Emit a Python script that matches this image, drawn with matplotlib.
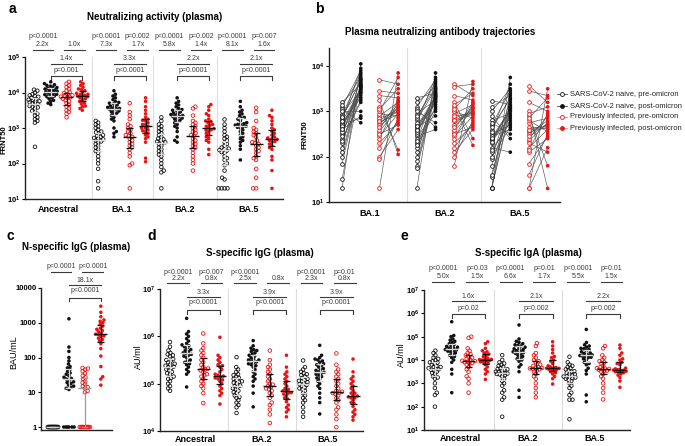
import numpy as np
import matplotlib
matplotlib.use('Agg')
import matplotlib.pyplot as plt
from matplotlib.lines import Line2D
from matplotlib.ticker import NullLocator
from matplotlib.transforms import blended_transform_factory as btf

plt.rcParams['font.family'] = ['Liberation Sans', 'DejaVu Sans']
plt.rcParams['mathtext.fontset'] = 'custom'
plt.rcParams['mathtext.rm'] = 'Liberation Sans'
plt.rcParams['mathtext.bf'] = 'Liberation Sans:bold'

# ---------------- DATA (log10 values for a, b, d, e) ----------------
a_variants = ["Ancestral", "BA.1", "BA.2", "BA.5"]
a_anc_np = [3.72,3.85,3.45,4.05,3.62,3.15,3.9,3.78,3.55,3.3,4.0,3.68,3.82,3.2,3.95,3.6,3.48,3.75,4.08,3.35,3.7,3.88,3.58,3.25,3.8,2.47,3.65,3.92,3.4,3.74]
a_anc_npo = [4.02,4.15,3.9,4.25,3.78,4.05,3.95,4.2,3.7,4.1,3.98,4.3,3.85,4.08,4.0,3.92,4.18,3.66,4.12,4.04,3.88,4.22,3.96,4.06,3.82,4.14,4.0,3.75,4.1,3.94]
a_anc_pp = [3.85,4.1,3.6,3.95,4.3,3.45,3.78,4.05,3.3,3.9,3.7,4.2,3.55,3.88,4.0,3.4,3.82,4.15,3.65,3.92,3.75,4.25,3.5,3.98,3.86]
a_anc_ppo = [3.9,4.1,3.7,4.25,3.55,3.95,4.0,3.8,4.3,3.6,3.88,4.15,3.75,3.92,4.05,3.5,3.85,4.2,3.68,3.98,3.82,4.08,3.62,3.94,3.9]
a_ba1_np = [2.7,3.1,2.4,2.85,1.3,2.95,2.6,3.2,2.2,2.75,2.5,3.05,1.85,2.8,2.65,2.3,3.15,2.72,2.0,2.9,2.55,1.5,2.78,2.45,3.0,2.1,2.68,2.88,2.35,2.62]
a_ba1_npo = [3.5,3.9,3.2,3.7,4.05,3.45,2.9,3.6,3.8,3.3,3.55,2.75,3.65,3.95,3.4,3.52,3.75,2.85,3.58,3.85,3.35,3.62,3.48,3.72,3.0,3.56,3.42,3.68,3.25,3.54]
a_ba1_pp = [2.75,3.45,2.3,2.9,1.3,3.1,2.55,2.95,3.7,2.0,2.8,2.6,3.25,2.45,2.7,3.0,2.2,2.85,3.35,2.5,2.65,1.95,3.05,2.78,2.4]
a_ba1_ppo = [3.0,3.4,2.75,3.2,3.85,2.15,3.1,2.9,3.6,2.6,3.05,3.25,2.05,2.95,3.15,3.75,2.8,3.0,3.3,2.7,3.1,2.85,3.5,2.92,3.22]
a_ba2_np = [2.6,3.1,2.3,2.8,1.3,2.95,2.45,3.3,2.0,2.7,2.5,3.05,1.8,2.75,2.55,2.2,3.2,2.65,1.9,2.85,2.4,2.1,2.62,2.35,3.0,1.75,2.58,2.9,2.25,2.68]
a_ba2_npo = [3.33,3.7,3.1,3.5,3.85,3.25,2.6,3.4,3.6,3.15,3.38,2.65,3.45,3.75,3.2,3.35,3.55,2.9,3.42,3.65,3.05,3.3,3.28,3.48,2.75,3.36,3.22,3.52,3.0,3.32]
a_ba2_pp = [2.78,3.6,2.3,2.95,1.8,3.1,2.55,3.0,3.55,2.1,2.85,2.6,3.2,2.45,2.7,3.05,2.2,2.9,3.35,2.5,2.65,2.0,3.15,2.8,2.4]
a_ba2_ppo = [2.94,3.35,2.7,3.15,3.66,2.25,3.05,2.85,3.6,2.6,3.0,3.2,2.4,2.9,3.1,3.5,2.75,2.95,3.25,2.65,3.08,2.8,3.4,2.98,3.18]
a_ba5_np = [2.36,3.0,2.1,2.6,1.3,2.8,2.2,3.24,1.3,2.5,2.3,2.9,1.55,2.55,2.4,1.3,3.1,2.45,1.8,2.7,2.15,1.3,2.38,1.95,2.75,1.6,2.32,2.65,2.0,2.42]
a_ba5_npo = [3.05,3.5,2.8,3.3,3.75,2.95,2.1,3.15,3.4,2.7,3.1,2.4,3.2,3.6,2.85,3.08,3.35,2.6,3.12,3.45,2.75,3.02,3.0,3.25,2.5,3.1,2.9,3.28,2.65,3.04]
a_ba5_pp = [2.55,3.57,2.1,2.75,1.3,2.9,2.35,2.8,3.45,1.3,2.6,2.4,3.0,2.2,2.5,2.85,1.85,2.65,3.2,2.3,2.45,1.6,2.95,2.58,2.15]
a_ba5_ppo = [2.65,3.2,2.4,2.85,3.5,1.8,2.75,2.55,3.35,2.2,2.7,2.9,1.3,2.6,2.8,3.3,2.45,2.62,3.0,2.1,2.72,2.5,3.1,2.68,2.95]

a_p_left = ["p<0.0001", "p<0.0001", "p<0.0001", "p<0.0001"]
a_f_left = ["2.2x", "7.3x", "5.8x", "8.1x"]
a_p_right = ["", "p=0.002", "p=0.002", "p=0.007"]
a_f_right = ["1.0x", "1.7x", "1.4x", "1.6x"]
a_f_mid = ["1.4x", "3.3x", "2.2x", "2.1x"]
a_p_mid = ["p=0.001", "p<0.0001", "p=0.0001", "p<0.0001"]

b_variants = ["BA.1", "BA.2", "BA.5"]
b_legend = ["SARS-CoV-2 naive, pre-omicron", "SARS-CoV-2 naive, post-omicron",
            "Previously infected, pre-omicron", "Previously infected, post-omicron"]

# panel c (BAU/mL, linear values)
c_np = [1,1,1,1,1,1,1,1,1,1,1,1,1,1,1,1,1,1,1,1,1,1,1,1]
c_npo = [1,1,1,1,1,1,12,13,14,15,16,18,19,20,22,24,25,27,30,33,36,40,45,50,55,65,80,100,150,200,1300]
c_pp = [1,1,1,1,1,1,1,1,1,1,1,10,11,13,14,15,17,19,21,24,27,30,35,40,45,48,50]
c_ppo = [16,24,28,55,110,180,250,300,330,360,400,420,450,470,500,550,600,650,700,800,900,1000,1100,1200,1500,2000,3000]
c_p_left = "p<0.0001"
c_p_right = "p<0.0001"
c_f_mid = "18.1x"
c_p_mid = "p<0.0001"

d_variants = ["Ancestral", "BA.2", "BA.5"]
d_anc_np = [5.33,5.6,5.1,5.45,4.85,5.88,5.25,5.7,5.0,5.38,5.52,4.95,5.3,5.65,5.15,5.42,5.78,5.05,5.35,5.48,5.2,5.58,4.9,5.28,5.4,5.12,5.62,5.36,5.22,5.5]
d_anc_npo = [5.62,6.0,5.4,5.8,4.93,6.38,5.55,5.9,5.3,5.7,5.85,5.2,5.6,6.1,5.45,5.75,5.95,5.35,5.65,5.78,5.5,5.68,5.25,5.58,6.05,5.42,5.72,5.64,5.48,5.82]
d_anc_pp = [5.28,5.75,4.9,5.5,4.59,6.06,5.1,5.6,5.35,4.8,5.2,5.85,5.0,5.45,5.25,5.7,4.95,5.3,5.55,5.15,5.4,5.05,5.65,5.32,5.18]
d_anc_ppo = [5.14,5.6,4.85,5.35,4.57,5.98,5.0,5.45,5.2,4.75,5.1,5.55,4.95,5.3,5.12,5.4,4.9,5.18,5.5,5.05,5.25,4.8,5.38,5.16,5.08]
d_ba2_np = [4.93,5.3,4.6,5.1,4.38,5.56,4.85,5.2,4.7,5.0,5.15,4.55,4.9,5.35,4.75,5.05,5.25,4.65,4.95,5.08,4.8,5.12,4.5,4.88,5.02,4.72,5.18,4.96,4.82,5.04]
d_ba2_npo = [5.46,5.8,5.2,5.6,4.51,5.91,5.35,5.7,5.05,5.5,5.65,4.8,5.42,5.75,5.25,5.55,5.68,5.1,5.48,5.58,5.3,5.52,4.95,5.4,5.62,5.15,5.72,5.44,5.38,5.5]
d_ba2_pp = [4.93,5.4,4.6,5.15,4.17,5.7,4.8,5.25,5.0,4.45,4.88,5.5,4.7,5.1,4.95,5.3,4.55,4.9,5.2,4.75,5.05,4.35,5.35,4.98,4.85]
d_ba2_ppo = [4.81,5.25,4.55,5.0,4.3,5.6,4.7,5.1,4.9,4.45,4.78,5.35,4.62,4.95,4.85,5.15,4.5,4.8,5.05,4.68,4.88,4.4,5.2,4.84,4.75]
d_ba5_np = [4.99,5.3,4.7,5.15,4.3,5.49,4.9,5.22,4.6,5.05,5.18,4.5,4.95,5.35,4.8,5.1,5.25,4.65,5.0,5.12,4.85,5.08,4.4,4.92,5.03,4.75,5.2,4.97,4.88,5.06]
d_ba5_npo = [5.22,5.55,4.95,5.4,4.36,5.81,5.15,5.45,4.8,5.3,5.5,4.6,5.18,5.6,5.0,5.35,5.48,4.9,5.25,5.38,5.1,5.28,4.7,5.2,5.42,5.05,5.52,5.24,5.12,5.32]
d_ba5_pp = [4.81,5.3,4.5,5.05,4.08,5.64,4.7,5.15,4.9,4.35,4.78,5.4,4.6,5.0,4.85,5.2,4.45,4.8,5.1,4.65,4.95,4.25,5.25,4.83,4.75]
d_ba5_ppo = [4.72,5.15,4.45,4.9,4.23,5.52,4.6,5.0,4.8,4.35,4.7,5.25,4.52,4.85,4.75,5.05,4.4,4.7,4.95,4.58,4.8,4.3,5.1,4.74,4.65]
d_p_left = ["p<0.0001", "p<0.0001", "p<0.0001"]
d_f_left = ["2.2x", "2.5x", "2.3x"]
d_p_right = ["p=0.007", "", "p=0.01"]
d_f_right = ["0.8x", "0.8x", "0.8x"]
d_f_mid = ["3.3x", "3.9x", "3.9x"]
d_p_mid = ["p<0.0001", "p<0.0001", "p<0.0001"]

e_anc_np = [3.6,4.2,3.3,3.85,2.0,4.4,3.5,4.0,2.6,3.7,4.1,3.2,3.55,4.3,3.0,3.75,3.95,2.8,3.65,3.9,3.4,3.8,2.5,3.58,4.05,3.25,3.7,3.62,3.45,3.88]
e_anc_npo = [4.43,4.9,4.2,4.6,2.6,5.64,4.35,4.75,3.6,4.5,5.0,4.0,4.4,4.85,4.1,4.55,4.7,3.9,4.45,4.65,4.25,4.52,3.4,4.38,4.8,4.15,4.58,4.46,4.3,5.05]
e_anc_pp = [3.93,4.5,3.6,4.15,2.6,5.0,3.8,4.3,4.0,3.3,3.88,4.95,3.5,4.1,3.95,4.25,3.2,3.9,4.2,3.7,4.05,3.0,4.4,3.97,3.85]
e_anc_ppo = [4.0,4.5,3.7,4.25,3.17,4.78,3.9,4.35,4.05,3.5,3.95,4.7,3.8,4.15,4.02,4.3,3.6,3.98,4.2,3.85,4.08,3.4,4.4,4.03,3.92]
e_ba2_np = [3.43,3.9,3.1,3.65,1.57,4.21,3.35,3.75,2.4,3.5,3.85,2.9,3.4,4.0,2.7,3.55,3.7,2.6,3.45,3.6,3.2,3.58,2.3,3.38,3.8,3.0,3.5,3.42,3.3,3.62]
e_ba2_npo = [4.31,4.8,4.05,4.5,2.4,5.5,4.2,4.65,3.5,4.4,4.9,3.8,4.28,4.7,3.95,4.45,4.6,3.7,4.33,4.55,4.1,4.38,2.7,4.25,4.75,4.0,4.48,4.35,4.15,4.62]
e_ba2_pp = [3.64,4.2,3.3,3.9,2.4,4.72,3.5,4.0,3.7,3.0,3.6,4.6,3.2,3.8,3.66,4.1,2.8,3.62,3.95,3.4,3.75,2.6,4.3,3.68,3.55]
e_ba2_ppo = [3.65,4.3,3.45,4.0,2.97,4.78,3.6,4.15,3.75,3.3,3.62,4.6,3.5,3.85,3.68,4.1,3.4,3.64,3.95,3.55,3.7,3.2,4.45,3.66,3.58]
e_ba5_np = [3.29,3.8,3.0,3.55,1.46,4.14,3.2,3.65,2.3,3.35,3.75,2.8,3.25,3.9,2.6,3.4,3.6,2.5,3.3,3.5,3.1,3.45,2.3,3.22,3.7,2.9,3.38,3.28,3.15,3.52]
e_ba5_npo = [4.17,4.65,3.9,4.4,2.21,5.31,4.1,4.5,3.4,4.25,4.75,3.65,4.15,4.6,3.8,4.3,4.45,2.5,4.2,4.35,4.0,4.22,3.55,4.12,4.55,3.85,4.28,4.19,4.05,4.48]
e_ba5_pp = [3.6,4.1,3.3,3.85,2.31,4.6,3.5,3.95,3.65,3.0,3.55,4.5,3.2,3.75,3.62,4.0,2.8,3.58,3.9,3.4,3.7,2.6,4.2,3.63,3.52]
e_ba5_ppo = [3.57,4.2,3.4,3.9,2.83,4.64,3.5,4.05,3.65,3.25,3.55,4.5,3.45,3.8,3.6,4.0,3.35,3.56,3.85,3.48,3.62,3.1,4.3,3.58,3.52]
e_p_left = ["p<0.0001", "p<0.0001", "p<0.0001"]
e_f_left = ["5.0x", "6.6x", "5.5x"]
e_p_right = ["p=0.03", "p=0.01", "p=0.01"]
e_f_right = ["1.5x", "1.7x", "1.5x"]
e_f_mid = ["1.6x", "2.1x", "2.2x"]
e_p_mid = ["p=0.02", "p=0.002", "p=0.002"]

# ---------------- FIGURE ----------------
W, H = 685, 446
fig = plt.figure(figsize=(W / 100, H / 100), dpi=100)
BLACK = '#111111'
RED = '#ee1111'
ANN = '#3a3a3a'
TICKFS = 5.5


def axpx(l, t, r, b):
    return fig.add_axes([l / W, 1 - b / H, (r - l) / W, (b - t) / H])


def fy(y):
    return 1 - y / H


def ftext(x, y, s, **kw):
    fig.text(x / W, fy(y), s, **kw)


def style(ax, xlim, ylim, yticks, ylabels, seps):
    ax.set_yscale('log')
    ax.set_xlim(*xlim)
    ax.set_ylim(*ylim)
    for s in ['top', 'right']:
        ax.spines[s].set_visible(False)
    for s in ['left', 'bottom']:
        ax.spines[s].set_linewidth(1.0)
        ax.spines[s].set_color('#222222')
    ax.set_yticks(yticks)
    ax.set_yticklabels(ylabels, fontsize=TICKFS, fontweight='bold')
    ax.yaxis.set_minor_locator(NullLocator())
    ax.tick_params(axis='y', length=2.5, width=0.8, pad=0.8)
    for s in seps:
        ax.axvline(s, color='#dcdcdc', lw=0.8, zorder=0)
    ax.patch.set_alpha(0)


def ppu(ax):
    return ax.transData.transform([[1, 1]])[0, 0] - ax.transData.transform([[0, 1]])[0, 0]


def swarm(ax, x0, vals, d=3.0, maxw=6.5):
    vals = np.asarray(vals, float)
    pix = ax.transData.transform(np.column_stack([np.full(len(vals), x0), vals]))
    ys = pix[:, 1]
    order = np.argsort(ys, kind='stable')
    px, py = [], []
    off = np.zeros(len(vals))
    for k, i in enumerate(order):
        y = ys[i]
        dd = d
        ok = None
        while True:
            cands = [0.0]
            for xj, yj in zip(px, py):
                dy = abs(y - yj)
                if dy < dd:
                    dx = np.sqrt(dd * dd - dy * dy)
                    cands += [xj + dx, xj - dx]
            sgn = 1 if k % 2 else -1
            cands = sorted(cands, key=lambda c: (round(abs(c), 6), sgn * c))
            for c in cands:
                if abs(c) > maxw + 1e-9:
                    continue
                if all((c - xj) ** 2 + (y - yj) ** 2 >= dd * dd - 1e-6 for xj, yj in zip(px, py)):
                    ok = c
                    break
            if ok is not None or dd < 0.4:
                break
            dd *= 0.85
        if ok is None:
            ok = 0.0
        off[i] = ok
        px.append(ok)
        py.append(y)
    return x0 + off / ppu(ax)


def column(ax, x0, vals, color, filled, ecolor, s=6.5, maxw=6.5):
    vals = np.asarray(vals, float)
    xs = swarm(ax, x0, vals, maxw=maxw)
    if filled:
        ax.scatter(xs, vals, s=s, c=color, edgecolors='none', zorder=3, clip_on=False)
    else:
        ax.scatter(xs, vals, s=s, facecolors='none', edgecolors=color, linewidths=0.6,
                   zorder=3, clip_on=False)
    med = np.median(vals)
    q1, q3 = np.percentile(vals, [25, 75])
    u = 1 / ppu(ax)
    ax.plot([x0 - 6.5 * u, x0 + 6.5 * u], [med, med], color=ecolor, lw=1.0, zorder=4, solid_capstyle='butt')
    ax.plot([x0, x0], [q1, q3], color=ecolor, lw=0.9, zorder=4)
    for q in (q1, q3):
        ax.plot([x0 - 3.5 * u, x0 + 3.5 * u], [q, q], color=ecolor, lw=0.9, zorder=4, solid_capstyle='butt')


def annot(ax, c0, rows, pl, fl, pr, fr, fm, pm, fs=5):
    tr = btf(ax.transData, fig.transFigure)
    c1, c2, c3 = c0 + 1, c0 + 2, c0 + 3
    kw = dict(transform=tr, ha='center', va='center', fontsize=fs, color=ANN, clip_on=False)
    lkw = dict(transform=tr, color=ANN, lw=0.8, clip_on=False)
    for (a, b, p, f) in ((c0, c1, pl, fl), (c2, c3, pr, fr)):
        if p:
            ax.text((a + b) / 2, fy(rows[0]), p, **kw)
        if f:
            ax.text((a + b) / 2, fy(rows[1]), f, **kw)
        ax.plot([a - 0.15, b + 0.15], [fy(rows[2])] * 2, **lkw)
    ax.text((c1 + c3) / 2, fy(rows[3]), fm, **kw)
    ax.plot([c1, c3], [fy(rows[4])] * 2, **lkw)
    ax.text((c1 + c3) / 2, fy(rows[5]), pm, **kw)
    ax.plot([c1, c1, c3, c3], [fy(rows[7]), fy(rows[6]), fy(rows[6]), fy(rows[7])], **lkw)


def logexp(k):
    return [r'$\mathbf{10^{%d}}$' % i for i in k]


def L(v):
    return 10 ** np.asarray(v, float)


NAIVE_E = '#d8d8d8'

# ---------------- Panel a ----------------
axa = axpx(25, 57, 283, 199)
style(axa, (-0.63, 15.7), (10, 1e5), [1e1, 1e2, 1e3, 1e4, 1e5], logexp([1, 2, 3, 4, 5]), [3.6, 7.5, 11.5])
a_groups = [(a_anc_np, a_anc_npo, a_anc_pp, a_anc_ppo), (a_ba1_np, a_ba1_npo, a_ba1_pp, a_ba1_ppo),
            (a_ba2_np, a_ba2_npo, a_ba2_pp, a_ba2_ppo), (a_ba5_np, a_ba5_npo, a_ba5_pp, a_ba5_ppo)]
for g, (np_, npo, pp, ppo) in enumerate(a_groups):
    b0 = 4 * g
    column(axa, b0, L(np_), BLACK, False, NAIVE_E)
    column(axa, b0 + 1, L(npo), BLACK, True, NAIVE_E)
    column(axa, b0 + 2, L(pp), RED, False, BLACK)
    column(axa, b0 + 3, L(ppo), RED, True, BLACK)
    annot(axa, b0, (36, 45, 50, 59, 64, 70, 76, 80), a_p_left[g], a_f_left[g], a_p_right[g],
          a_f_right[g], a_f_mid[g], a_p_mid[g])
axa.set_xticks([1.5, 5.5, 9.5, 13.5])
axa.set_xticklabels(a_variants, fontsize=6.5, fontweight='bold')
axa.tick_params(axis='x', length=0, pad=4)
ftext(4, 140, "FRNT50", rotation=90, ha='center', va='center', fontsize=5.5, fontweight='bold')
ftext(155, 17, "Neutralizing activity (plasma)", ha='center', va='center', fontsize=7, fontweight='bold')
ftext(12, 9, "a", ha='center', va='center', fontsize=10, fontweight='bold')

# ---------------- Panel b ----------------
axb = axpx(329, 48, 560, 202)
style(axb, (-0.7, 11.66), (10, 10 ** 4.4), [1e1, 1e2, 1e3, 1e4], logexp([1, 2, 3, 4]), [3.5, 7.45])
b_groups = a_groups[1:]
for g, (np_, npo, pp, ppo) in enumerate(b_groups):
    b0 = 4 * g
    for (pre, post, xa, col) in ((np_, npo, b0, BLACK), (pp, ppo, b0 + 2, RED)):
        pre, post = L(pre), L(post)
        n = len(pre)
        axb.plot(np.vstack([np.full(n, xa), np.full(n, xa + 1)]), np.vstack([pre, post]),
                 color='#505050', lw=0.45, zorder=2)
        axb.scatter(np.full(n, xa), pre, s=7, facecolors='white', edgecolors=col, linewidths=0.6, zorder=3)
        axb.scatter(np.full(n, xa + 1), post, s=7, c=col, edgecolors='none', zorder=3)
axb.set_xticks([1.5, 5.5, 9.5])
axb.set_xticklabels(b_variants, fontsize=6.5, fontweight='bold')
axb.tick_params(axis='x', length=0, pad=5)
ftext(305, 135, "FRNT50", rotation=90, ha='center', va='center', fontsize=5.5, fontweight='bold')
ftext(440, 32, "Plasma neutralizing antibody trajectories", ha='center', va='center', fontsize=7, fontweight='bold')
ftext(319, 9, "b", ha='center', va='center', fontsize=10, fontweight='bold')

leg_style = [(BLACK, False), (BLACK, True), (RED, False), (RED, True)]
for k, (lab, (col, filled)) in enumerate(zip(b_legend, leg_style)):
    y = fy([94, 106, 117, 128][k])
    fig.add_artist(Line2D([557 / W, 567 / W], [y, y], color='#444444' if col == BLACK else '#f08080', lw=0.6))
    fig.add_artist(Line2D([562 / W], [y], marker='o', ms=2.8, ls='',
                          mfc=col if filled else 'white', mec=col, mew=0.6))
    fig.text(570 / W, y, lab, fontsize=5.4, va='center', ha='left', color='#222222')

# ---------------- Panel c ----------------
axc = axpx(41, 288, 112, 430)
style(axc, (-0.75, 3.7), (10 ** -0.086, 1e4), [1, 10, 100, 1000, 10000],
      ["1", "10", "100", "1000", "10000"], [])
column(axc, 0, c_np, BLACK, False, NAIVE_E, maxw=5.5)
column(axc, 1, c_npo, BLACK, True, NAIVE_E, maxw=5.5)
column(axc, 2, c_pp, RED, False, '#9a9a9a', maxw=5.5)
column(axc, 3, c_ppo, RED, True, BLACK, maxw=5.5)
axc.set_xticks([])
annot(axc, 0, (267, 0, 272, 280, 285, 291, 298, 301), c_p_left, "", c_p_right, "", c_f_mid, c_p_mid)
ftext(14, 352, "BAU/mL", rotation=90, ha='center', va='center', fontsize=6.5)
ftext(76, 247, "N-specific IgG (plasma)", ha='center', va='center', fontsize=7, fontweight='bold')
ftext(10, 236, "c", ha='center', va='center', fontsize=10, fontweight='bold')

# ---------------- Panel d ----------------
axd = axpx(160, 289, 363, 431)
style(axd, (-0.6, 11.6), (1e4, 1e7), [1e4, 1e5, 1e6, 1e7], logexp([4, 5, 6, 7]), [3.5, 7.55])
d_groups = [(d_anc_np, d_anc_npo, d_anc_pp, d_anc_ppo), (d_ba2_np, d_ba2_npo, d_ba2_pp, d_ba2_ppo),
            (d_ba5_np, d_ba5_npo, d_ba5_pp, d_ba5_ppo)]
for g, (np_, npo, pp, ppo) in enumerate(d_groups):
    b0 = 4 * g
    column(axd, b0, L(np_), BLACK, False, NAIVE_E)
    column(axd, b0 + 1, L(npo), BLACK, True, NAIVE_E)
    column(axd, b0 + 2, L(pp), RED, False, BLACK)
    column(axd, b0 + 3, L(ppo), RED, True, BLACK)
    annot(axd, b0, (272, 279, 283, 293, 297, 303, 310, 314), d_p_left[g], d_f_left[g], d_p_right[g],
          d_f_right[g], d_f_mid[g], d_p_mid[g])
axd.set_xticks([1.5, 5.5, 9.5])
axd.set_xticklabels(d_variants, fontsize=6.5, fontweight='bold')
axd.tick_params(axis='x', length=0, pad=3)
ftext(138, 357, "AU/ml", rotation=90, ha='center', va='center', fontsize=6.5)
ftext(260, 253, "S-specific IgG (plasma)", ha='center', va='center', fontsize=7, fontweight='bold')
ftext(152, 236, "d", ha='center', va='center', fontsize=10, fontweight='bold')

# ---------------- Panel e ----------------
axe = axpx(424, 290, 630, 430)
style(axe, (-0.65, 11.6), (10, 1e7), [1e1, 1e2, 1e3, 1e4, 1e5, 1e6, 1e7],
      logexp([1, 2, 3, 4, 5, 6, 7]), [3.5, 7.55])
e_groups = [(e_anc_np, e_anc_npo, e_anc_pp, e_anc_ppo), (e_ba2_np, e_ba2_npo, e_ba2_pp, e_ba2_ppo),
            (e_ba5_np, e_ba5_npo, e_ba5_pp, e_ba5_ppo)]
for g, (np_, npo, pp, ppo) in enumerate(e_groups):
    b0 = 4 * g
    column(axe, b0, L(np_), BLACK, False, NAIVE_E)
    column(axe, b0 + 1, L(npo), BLACK, True, NAIVE_E)
    column(axe, b0 + 2, L(pp), RED, False, BLACK)
    column(axe, b0 + 3, L(ppo), RED, True, BLACK)
    annot(axe, b0, (268, 277, 282, 297, 301, 308, 314, 318), e_p_left[g], e_f_left[g], e_p_right[g],
          e_f_right[g], e_f_mid[g], e_p_mid[g])
axe.set_xticks([1.5, 5.5, 9.5])
axe.set_xticklabels(d_variants, fontsize=6.5, fontweight='bold')
axe.tick_params(axis='x', length=0, pad=3)
ftext(401, 355, "AU/ml", rotation=90, ha='center', va='center', fontsize=6.5)
ftext(528, 253, "S-specific IgA (plasma)", ha='center', va='center', fontsize=7, fontweight='bold')
ftext(404, 236, "e", ha='center', va='center', fontsize=10, fontweight='bold')

fig.savefig("out.png", dpi=100)
